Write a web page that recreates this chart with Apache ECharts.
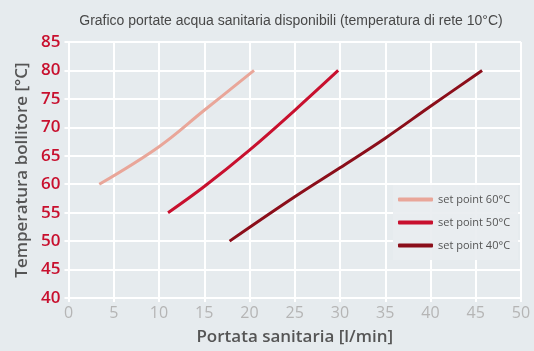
<!DOCTYPE html>
<html><head><meta charset="utf-8">
<script src="https://cdn.jsdelivr.net/npm/echarts@6/dist/echarts.min.js"></script>
<style>html,body{margin:0;padding:0;background:#e6ebee;}#c{width:534px;height:351px;}</style>
</head><body><div id="c"></div>
<script>
const titleText = 'Grafico portate acqua sanitaria disponibili (temperatura di rete 10°C)';
const seriesNames = ['set point 60°C', 'set point 50°C', 'set point 40°C'];
const seriesColors = ['#e9a699', '#c8102e', '#8b0e1a'];
const sp60 = [[3.4,60],[10,66.6],[15,73],[20.5,80]];
const sp50 = [[11,55],[15,59.6],[20,66],[25,73],[29.8,80]];
const sp40 = [[17.8,50],[25,57.8],[30,62.9],[35,68.1],[40,73.7],[45.7,80]];
const xTicks = {min:0, max:50, interval:5};
const yTicks = {min:40, max:85, interval:5};
const fontMain = '"Open Sans", "Liberation Sans", sans-serif';

const chart = echarts.init(document.getElementById('c'));
const data = [sp60, sp50, sp40];
chart.setOption({
  backgroundColor: '#e6ebee',
  animation: false,
  title: {
    text: titleText, left: 286, top: 9, textAlign: 'center',
    textStyle: {fontFamily: '"Liberation Sans", sans-serif', fontSize: 14, fontWeight: 'normal', color: '#484848'}
  },
  grid: {left: 68.5, right: 13, top: 42, bottom: 53},
  legend: {
    orient: 'vertical', left: 393, top: 185, padding: [9, 8, 9, 5],
    backgroundColor: 'rgba(233,237,240,0.92)',
    itemWidth: 35, itemHeight: 4, itemGap: 12, icon: 'roundRect',
    textStyle: {fontFamily: fontMain, fontSize: 11, color: '#555'},
    data: seriesNames
  },
  xAxis: {
    type: 'value', min: xTicks.min, max: xTicks.max, interval: xTicks.interval,
    name: 'Portata sanitaria [l/min]', nameLocation: 'middle', nameGap: 31,
    nameTextStyle: {fontFamily: fontMain, fontSize: 17, fontWeight: 600, color: '#555'},
    axisLine: {show: true, lineStyle: {color: '#fff', width: 2}},
    axisTick: {show: true, length: 4, lineStyle: {color: '#fff', width: 2}},
    axisLabel: {fontFamily: fontMain, fontSize: 16, color: '#b5b5b5', margin: 7},
    splitLine: {show: true, lineStyle: {color: '#fff', width: 2}}
  },
  yAxis: {
    type: 'value', min: yTicks.min, max: yTicks.max, interval: yTicks.interval,
    name: 'Temperatura bollitore [°C]', nameLocation: 'middle', nameGap: 37,
    nameTextStyle: {fontFamily: fontMain, fontSize: 17, fontWeight: 600, color: '#555'},
    axisLine: {show: true, lineStyle: {color: '#fff', width: 2}},
    axisTick: {show: true, length: 4, lineStyle: {color: '#fff', width: 2}},
    axisLabel: {fontFamily: fontMain, fontSize: 17, fontWeight: 600, color: '#c8102e', margin: 8},
    splitLine: {show: true, lineStyle: {color: '#fff', width: 2}}
  },
  series: seriesNames.map((n, i) => ({
    name: n, type: 'line', data: data[i], smooth: 0.4, symbol: 'none',
    lineStyle: {color: seriesColors[i], width: 3},
    itemStyle: {color: seriesColors[i]}
  }))
});
</script></body></html>
